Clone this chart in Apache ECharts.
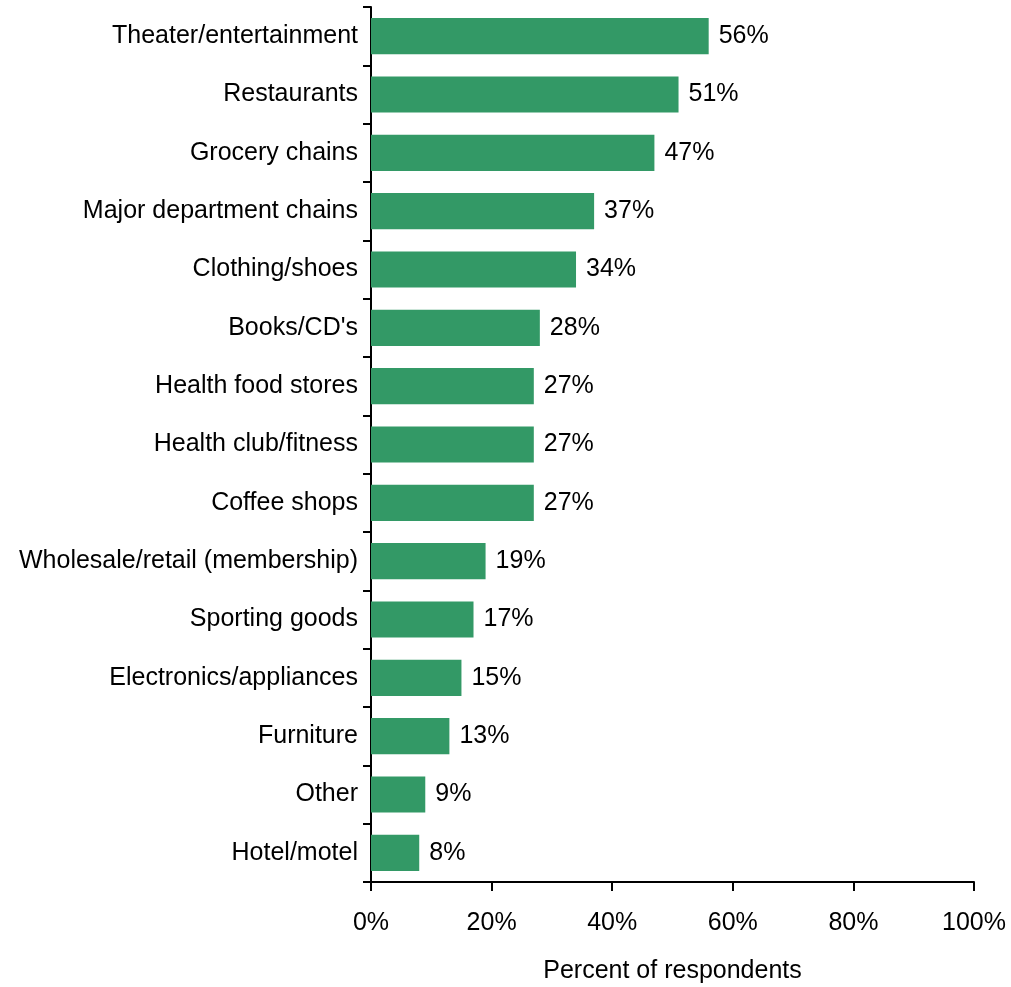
<!DOCTYPE html>
<html>
<head>
<meta charset="utf-8">
<script src="https://cdn.jsdelivr.net/npm/echarts@6/dist/echarts.min.js"></script>
<style>
  html, body { margin: 0; padding: 0; background: #fff; }
  #chart { width: 1011px; height: 987px; }
</style>
</head>
<body>
<div id="chart"></div>
<script>
// categories listed bottom-to-top (ECharts category axis starts at the bottom)
var categories = ['Hotel/motel', 'Other', 'Furniture', 'Electronics/appliances',
  'Sporting goods', 'Wholesale/retail (membership)', 'Coffee shops',
  'Health club/fitness', 'Health food stores', "Books/CD's", 'Clothing/shoes',
  'Major department chains', 'Grocery chains', 'Restaurants', 'Theater/entertainment'];
var values = [8, 9, 13, 15, 17, 19, 27, 27, 27, 28, 34, 37, 47, 51, 56];
var xTicks = [0, 20, 40, 60, 80, 100];

var font = 'Liberation Sans, Arial, sans-serif';
var chart = echarts.init(document.getElementById('chart'));

chart.setOption({
  animation: false,
  grid: { left: 371, right: 37, top: 7, bottom: 105, outerBoundsMode: 'none', containLabel: false },
  xAxis: {
    type: 'value',
    min: xTicks[0],
    max: xTicks[xTicks.length - 1],
    interval: 20,
    name: 'Percent of respondents',
    nameLocation: 'middle',
    nameGap: 77,
    nameTextStyle: { color: '#000', fontSize: 25, fontFamily: font },
    axisLine: { show: true, lineStyle: { color: '#000', width: 2 } },
    axisTick: { show: true, length: 9, lineStyle: { color: '#000', width: 2 } },
    axisLabel: { color: '#000', fontSize: 25, fontFamily: font, margin: 29,
      formatter: function (v) { return v + '%'; } },
    splitLine: { show: false }
  },
  yAxis: {
    type: 'category',
    data: categories,
    axisLine: { show: true, lineStyle: { color: '#000', width: 2 } },
    axisTick: { show: true, length: 8, lineStyle: { color: '#000', width: 2 } },
    axisLabel: { color: '#000', fontSize: 25, fontFamily: font, margin: 13 }
  },
  series: [{
    type: 'bar',
    data: values,
    barCategoryGap: '38%',
    itemStyle: { color: '#339966' },
    label: {
      show: true,
      position: 'right',
      distance: 10,
      color: '#000',
      fontSize: 25,
      fontFamily: font,
      formatter: function (p) { return p.value + '%'; }
    }
  }]
});
</script>
</body>
</html>
